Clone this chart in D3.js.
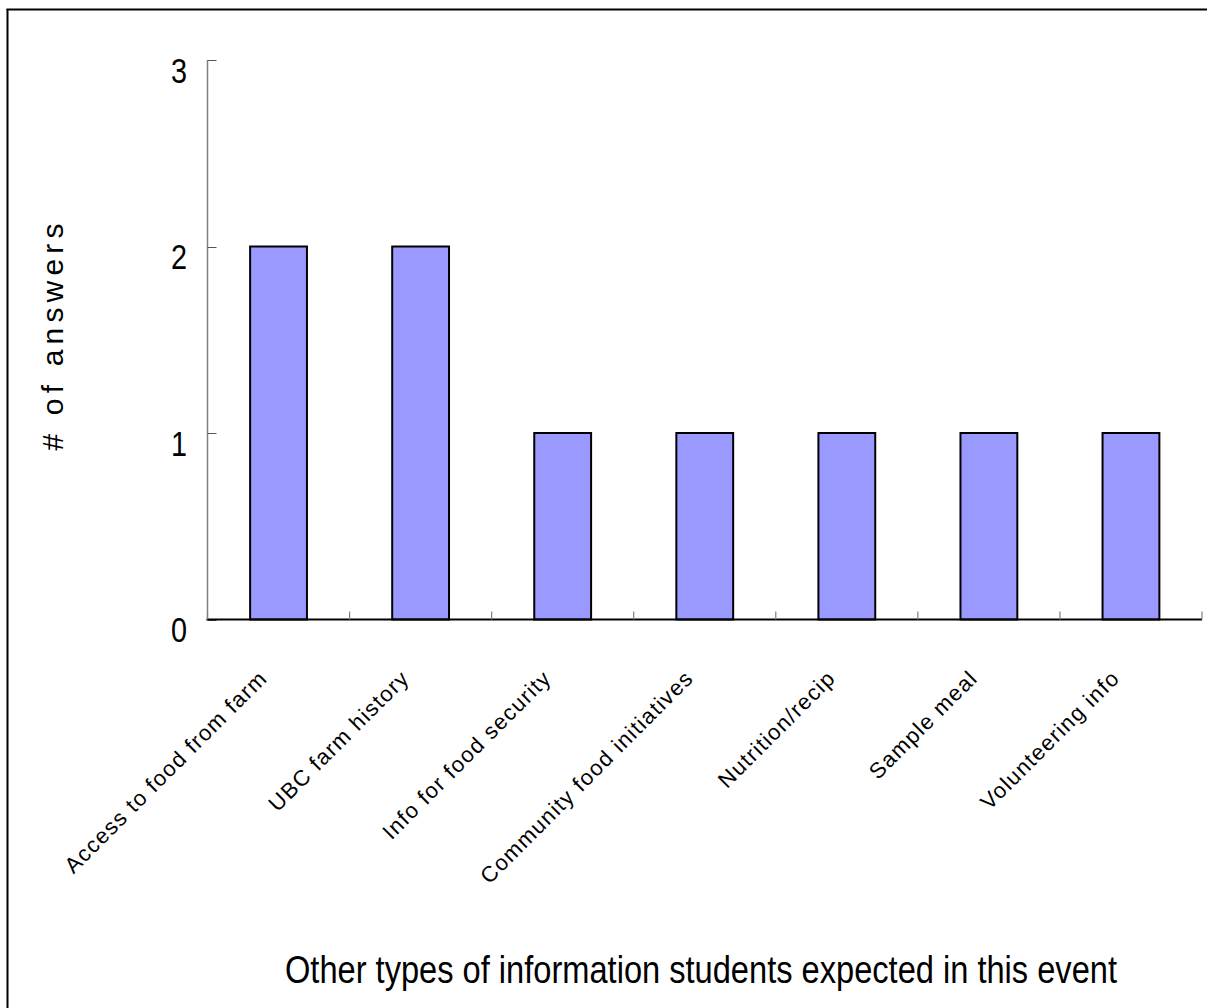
<!DOCTYPE html>
<html><head><meta charset="utf-8">
<script src="https://cdn.jsdelivr.net/npm/d3@7"></script>
<style>body{margin:0;background:#fff}svg{display:block}</style>
</head><body>
<script>
const categories = ["Access to food from farm","UBC farm history","Info for food security","Community food initiatives","Nutrition/recip","Sample meal","Volunteering info"];
const answers = [2,2,1,1,1,1,1];
const yTicks = [0,1,2,3];
const yTitle = "# of answers";
const xTitle = "Other types of information students expected in this event";

(function(){
const W = 1207, H = 1008;
const svg = d3.select("body").append("svg").attr("width", W).attr("height", H);

// frame (top and left edges visible)
svg.append("line").attr("x1",6.5).attr("x2",W).attr("y1",9.5).attr("y2",9.5).attr("stroke","#000").attr("stroke-width",2);
svg.append("line").attr("x1",7.5).attr("x2",7.5).attr("y1",9).attr("y2",H).attr("stroke","#000").attr("stroke-width",2);

const pLeft = 207.5, pRight = 1202, pTop = 60, pBottom = 619.5;
const x = d3.scaleBand().domain(categories).range([pLeft, pRight]).paddingInner(0.6).paddingOuter(0.3);
const y = d3.scaleLinear().domain([0,3]).range([pBottom, pTop]);

// y axis
svg.append("line").attr("x1",pLeft).attr("x2",pLeft).attr("y1",y(3)).attr("y2",pBottom)
  .attr("stroke","#808080").attr("stroke-width",1.5);
svg.selectAll(".yt").data(yTicks).join("line")
  .attr("x1",pLeft).attr("x2",pLeft+9).attr("y1",d=>Math.round(y(d))+0.5).attr("y2",d=>Math.round(y(d))+0.5)
  .attr("stroke","#555").attr("stroke-width",1);
svg.selectAll(".yl").data(yTicks).join("text")
  .attr("x",187).attr("y",d=>y(d)+23)
  .attr("text-anchor","end").attr("font-family","Liberation Sans, Arial, sans-serif")
  .attr("font-size",36).attr("fill","#000")
  .attr("transform","translate(187,0) scale(0.8,1) translate(-187,0)")
  .text(d=>d);

// bars
svg.selectAll(".bar").data(categories).join("rect")
  .attr("x",d=>x(d)).attr("width",x.bandwidth())
  .attr("y",(d,i)=>y(answers[i])).attr("height",(d,i)=>pBottom-y(answers[i]))
  .attr("fill","#9999FF").attr("stroke","#000").attr("stroke-width",2);

// x axis
svg.append("line").attr("x1",pLeft-1).attr("x2",pRight).attr("y1",pBottom).attr("y2",pBottom)
  .attr("stroke","#000").attr("stroke-width",2);
const tickXs = categories.map((c,i)=>pLeft + i*x.step()).concat([pLeft + categories.length*x.step()]);
svg.selectAll(".xt").data(tickXs).join("line")
  .attr("x1",d=>d).attr("x2",d=>d).attr("y1",pBottom).attr("y2",pBottom-8)
  .attr("stroke","#808080").attr("stroke-width",1.2);

// category labels
svg.selectAll(".xl").data(categories).join("text")
  .attr("transform",d=>`translate(${x(d)+x.bandwidth()/2-10},${pBottom+60}) rotate(-45)`)
  .attr("text-anchor","end").attr("font-family","Liberation Sans, Arial, sans-serif")
  .attr("font-size",22).attr("letter-spacing",1.3).attr("fill","#000")
  .text(d=>d);

// axis titles
svg.append("text").attr("transform","translate(63,337) rotate(-90)")
  .attr("x",-113.5).attr("textLength",227).attr("lengthAdjust","spacing")
  .attr("font-family","Liberation Sans, Arial, sans-serif")
  .attr("font-size",30).attr("fill","#000").text(yTitle);

svg.append("text").attr("x",285).attr("y",983)
  .attr("textLength",832).attr("lengthAdjust","spacingAndGlyphs")
  .attr("font-family","Liberation Sans, Arial, sans-serif")
  .attr("font-size",38).attr("fill","#000").text(xTitle);
})();
</script>
</body></html>
